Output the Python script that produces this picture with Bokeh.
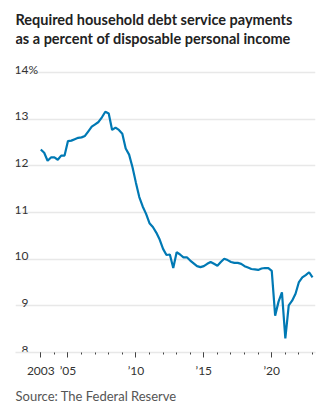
import numpy as np
from bokeh.plotting import figure
from bokeh.models import FixedTicker, Label, ColumnDataSource, Title
from bokeh.core.properties import value
from bokeh.embed import file_html
from bokeh.resources import INLINE

# ---- data (quarterly, 2003Q1 .. 2023Q1) ----
start_year = 2003
dsr_values = [
    12.35, 12.28, 12.11, 12.18,   # 2003
    12.18, 12.13, 12.22, 12.22,   # 2004
    12.53, 12.54, 12.57, 12.60,   # 2005
    12.61, 12.64, 12.74, 12.84,   # 2006
    12.89, 12.94, 13.04, 13.16,   # 2007
    13.12, 12.77, 12.82, 12.77,   # 2008
    12.69, 12.37, 12.24, 11.97,   # 2009
    11.64, 11.33, 11.13, 10.97,   # 2010
    10.77, 10.69, 10.57, 10.42,   # 2011
    10.22, 10.09, 10.10, 9.81,    # 2012
    10.15, 10.10, 10.04, 10.04,   # 2013
    9.97, 9.91, 9.85, 9.83,       # 2014
    9.85, 9.90, 9.94, 9.90,       # 2015
    9.86, 9.94, 10.01, 9.98,      # 2016
    9.94, 9.92, 9.92, 9.90,       # 2017
    9.85, 9.82, 9.79, 9.78,       # 2018
    9.77, 9.80, 9.81, 9.81,       # 2019
    9.75, 8.79, 9.09, 9.29,       # 2020
    8.30, 9.01, 9.11, 9.26,       # 2021
    9.51, 9.61, 9.66, 9.72,       # 2022
    9.61,                         # 2023
]
quarter_x = [start_year + i / 4 for i in range(len(dsr_values))]

y_ticks = [8, 9, 10, 11, 12, 13, 14]
y_tick_labels = ["8", "9", "10", "11", "12", "13", "14"]
x_major_ticks = [2003, 2005, 2010, 2015, 2020]
x_tick_labels = ["2003", "\u201905", "\u201910", "\u201915", "\u201920"]
x_minor_ticks = list(range(2003, 2024))

title_lines = ["Required household debt service payments",
               "as a percent of disposable personal income"]
source_text = "Source: The Federal Reserve"

X0, X1 = 2001.138, 2023.22
Y0, Y1 = 8.0, 15.543
FRAME_H = 352

p = figure(width=334, height=417, x_range=(X0, X1), y_range=(Y0, Y1),
           output_backend="svg", toolbar_location=None,
           min_border_left=15, min_border_right=19,
           min_border_top=0, min_border_bottom=65)
p.outline_line_color = None
p.background_fill_color = "white"
p.border_fill_color = "white"

p.yaxis.visible = False
p.ygrid.ticker = FixedTicker(ticks=y_ticks)
p.ygrid.grid_line_color = "#e8e8e8"
p.ygrid.grid_line_width = 1.5
p.xgrid.visible = False

ax = p.xaxis[0]
ax.ticker = FixedTicker(ticks=x_major_ticks, minor_ticks=x_minor_ticks)
ax.major_label_overrides = {t: l for t, l in zip(x_major_ticks, x_tick_labels)}
ax.axis_line_color = "#e8e8e8"
ax.axis_line_width = 1.5
ax.major_tick_line_color = "#444444"
ax.minor_tick_line_color = "#444444"
ax.major_tick_in = 0
ax.major_tick_out = 5
ax.minor_tick_in = 0
ax.minor_tick_out = 2
ax.major_label_standoff = 5
ax.major_label_text_font = "Lato"
ax.major_label_text_font_size = "12px"
ax.major_label_text_color = "#333333"

p.line(quarter_x, dsr_values, line_color="#0079b4", line_width=2.2)

lab_src = ColumnDataSource(dict(x=[X0] * len(y_ticks), y=y_ticks, t=y_tick_labels))
p.text(x="x", y="y", text="t", source=lab_src, x_offset=13, y_offset=-3,
       text_align="right", text_baseline="alphabetic",
       text_font=value("Lato"), text_font_size="12px", text_color="#333333")
p.text(x=[X0], y=[y_ticks[-1]], text=["%"], x_offset=13, y_offset=-3,
       text_align="left", text_baseline="alphabetic",
       text_font=value("Lato"), text_font_size="12px", text_color="#333333")

for i, line in enumerate(title_lines):
    p.add_layout(Label(x=0, y=FRAME_H - 18.5 - 19.5 * i,
                       x_units="screen", y_units="screen",
                       text=line, text_font="Lato", text_font_style="bold",
                       text_font_size="14.5px", text_color="#222222",
                       text_baseline="alphabetic"))

p.add_layout(Title(text=source_text, align="left", text_font="Lato",
                   text_font_style="normal", text_font_size="13px",
                   text_color="#555555", standoff=10, offset=0), "below")

open("out.html", "w").write(file_html(p, INLINE))
